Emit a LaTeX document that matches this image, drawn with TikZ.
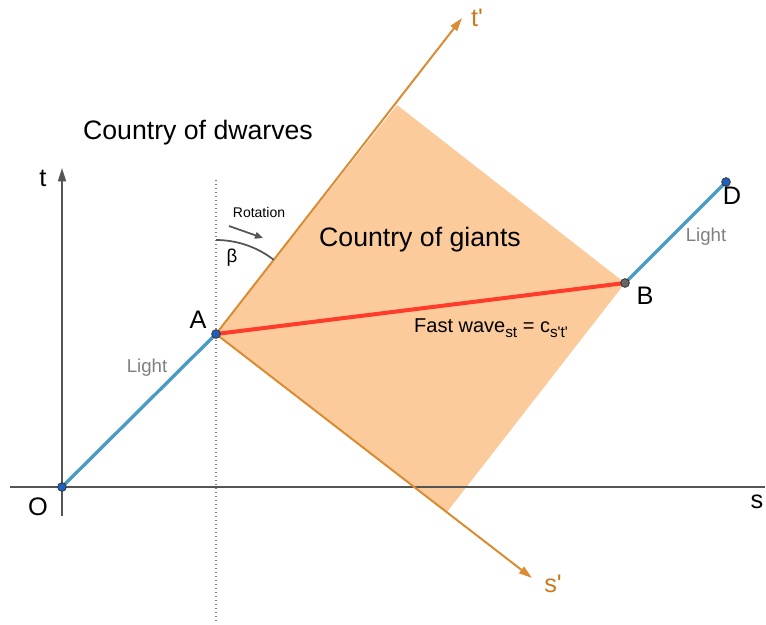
\documentclass[tikz,border=0pt]{standalone}
\usepackage{fontspec}
\setmainfont{Liberation Sans}
\usetikzlibrary{arrows.meta}
\definecolor{lightblue}{HTML}{4A9BC4}
\definecolor{axorange}{HTML}{D98C34}
\definecolor{fillorange}{HTML}{FBCB9C}
\definecolor{wavered}{HTML}{FF3B2B}
\definecolor{axgray}{HTML}{555555}
\definecolor{dotblue}{HTML}{1F5FC0}
\definecolor{labgray}{HTML}{808080}
\definecolor{primecol}{HTML}{C97A1E}
\newcommand{\mysub}[1]{\raisebox{-0.45ex}{\fontsize{11.5}{12}\selectfont #1}}
\tikzset{
  axis/.style={axgray, line width=1.3pt},
  lightray/.style={lightblue, line width=2.5pt},
  primeaxis/.style={axorange, line width=1.5pt, -{Triangle[length=10pt,width=6pt]}},
  ptdot/.style={circle, draw=black!80, line width=0.6pt, inner sep=0pt, minimum size=6.5pt},
  big/.style={font=\fontsize{20}{24}\selectfont},
  letter/.style={font=\fontsize{19}{22}\selectfont},
  mid/.style={font=\fontsize{14}{16}\selectfont},
  wave/.style={font=\fontsize{15}{18}\selectfont},
  small/.style={font=\fontsize{10.5}{12}\selectfont},
}
\begin{document}
\begin{tikzpicture}[x=0.75pt,y=-0.75pt]
\useasboundingbox (0,0) rectangle (766,624);
% coordinates
\coordinate (O) at (62,487);
\coordinate (A) at (216,334);
\coordinate (B) at (625,283);
\coordinate (D) at (726,182);
\coordinate (Ptop) at (397,105);
\coordinate (Pbot) at (447,512);
\coordinate (sL) at (10,487);
\coordinate (sR) at (765,487);
\coordinate (tB) at (62,516);
\coordinate (tT) at (62,168);
\coordinate (tp) at (462,18);
\coordinate (sp) at (532,578);
\coordinate (dT) at (216,180);
\coordinate (dB) at (216,622);
% region
\fill[fillorange] (A) -- (Ptop) -- (B) -- (Pbot) -- cycle;
% axes
\draw[axis] (sL) -- (sR);
\draw[axis, -{Triangle[length=10pt,width=6pt]}] (tB) -- (tT);
\draw[labgray, line width=1pt, dotted] (dT) -- (dB);
\draw[primeaxis] (A) -- (tp);
\draw[primeaxis] (A) -- (sp);
% rotation arc
\draw[axgray, line width=1.3pt] (216,240) arc[start angle=-90, end angle=-52.1, radius=94];
\draw[axgray, line width=1.3pt, -{Triangle[length=6pt,width=5pt]}] (229,226) -- (263,238);
% rays
\draw[lightray] (O) -- (A);
\draw[lightray] (B) -- (D);
\draw[wavered, line width=3pt] (A) -- (B);
% dots
\node[ptdot, fill=dotblue] (nO) at (O) {};
\node[ptdot, fill=dotblue] (nA) at (A) {};
\node[ptdot, fill=black!60] (nB) at (B) {};
\node[ptdot, fill=dotblue] (nD) at (D) {};
% labels
\node[big] (ldw) at (198,133) {Country of dwarves};
\node[big] (lgi) at (420,240) {Country of giants};
\node[mid, labgray] (l1) at (147,368) {Light};
\node[mid, labgray] (l2) at (706,237) {Light};
\node[letter] (lA) at (198,320) {A};
\node[letter] (lB) at (645,296) {B};
\node[letter] (lD) at (732,196) {D};
\node[letter] (lO) at (38,507) {O};
\node[letter] (ls) at (757,502) {s};
\node[letter] (lt) at (43,178) {t};
\node[letter, primecol] (ltp) at (477,18) {t\textquotesingle};
\node[letter, primecol] (lsp) at (553,584) {s\textquotesingle};
\node[small] (lrot) at (259,212) {Rotation};
\node[mid] (lbeta) at (232,258) {β};
\node[wave] (lfw) at (491,328) {Fast wave\mysub{st} = c\mysub{s\textquotesingle t\textquotesingle}};
\end{tikzpicture}
\end{document}
